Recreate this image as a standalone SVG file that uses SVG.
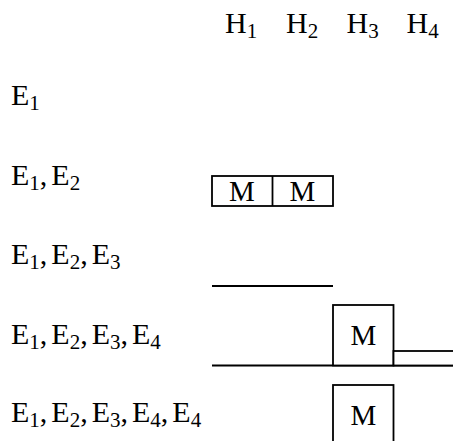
<svg xmlns="http://www.w3.org/2000/svg" width="453" height="441" viewBox="0 0 453 441">
<style>
text { font-family: "Liberation Serif", "DejaVu Serif", serif; font-size: 30px; fill: #000; }
.sub { font-size: 21px; }
.m { text-anchor: middle; font-size: 29px; }
.box { fill: #fff; stroke: #000; stroke-width: 1.8; }
.ln { stroke: #000; stroke-width: 1.8; fill: none; }
</style>
<rect width="453" height="441" fill="#fff"/>
<g id="col-headers">
  <text x="225" y="33">H<tspan class="sub" dy="5">1</tspan></text>
  <text x="286" y="33">H<tspan class="sub" dy="5">2</tspan></text>
  <text x="346.5" y="33">H<tspan class="sub" dy="5">3</tspan></text>
  <text x="406.5" y="33">H<tspan class="sub" dy="5">4</tspan></text>
</g>
<g id="row-labels">
  <text x="11" y="105">E<tspan class="sub" dy="5">1</tspan></text>
  <text x="11" y="185">E<tspan class="sub" dy="5">1</tspan><tspan dy="-5">,</tspan><tspan dx="4">E</tspan><tspan class="sub" dy="5">2</tspan></text>
  <text x="11" y="264">E<tspan class="sub" dy="5">1</tspan><tspan dy="-5">,</tspan><tspan dx="4">E</tspan><tspan class="sub" dy="5">2</tspan><tspan dy="-5">,</tspan><tspan dx="4">E</tspan><tspan class="sub" dy="5">3</tspan></text>
  <text x="11" y="344">E<tspan class="sub" dy="5">1</tspan><tspan dy="-5">,</tspan><tspan dx="4">E</tspan><tspan class="sub" dy="5">2</tspan><tspan dy="-5">,</tspan><tspan dx="4">E</tspan><tspan class="sub" dy="5">3</tspan><tspan dy="-5">,</tspan><tspan dx="4">E</tspan><tspan class="sub" dy="5">4</tspan></text>
  <text x="11" y="422">E<tspan class="sub" dy="5">1</tspan><tspan dy="-5">,</tspan><tspan dx="4">E</tspan><tspan class="sub" dy="5">2</tspan><tspan dy="-5">,</tspan><tspan dx="4">E</tspan><tspan class="sub" dy="5">3</tspan><tspan dy="-5">,</tspan><tspan dx="4">E</tspan><tspan class="sub" dy="5">4</tspan><tspan dy="-5">,</tspan><tspan dx="4">E</tspan><tspan class="sub" dy="5">4</tspan></text>
</g>
<g id="lines">
  <line class="ln" x1="212" y1="286" x2="333" y2="286"/>
  <line class="ln" x1="212" y1="365.5" x2="453" y2="365.5"/>
</g>
<g id="row2-mm">
  <rect class="box" x="212" y="176" width="121" height="30"/>
  <line class="ln" x1="272.5" y1="176" x2="272.5" y2="206"/>
  <text class="m" x="242" y="201">M</text>
  <text class="m" x="302.5" y="201">M</text>
</g>
<g id="row4-m">
  <rect class="box" x="333" y="305" width="60.5" height="60.5"/>
  <text class="m" x="363.3" y="345">M</text>
</g>
<g id="row4-small">
  <rect class="box" x="393.5" y="351" width="62" height="14.5"/>
</g>
<g id="row5-m">
  <rect class="box" x="333" y="385" width="60.5" height="70"/>
  <text class="m" x="363.3" y="425">M</text>
</g>
</svg>
